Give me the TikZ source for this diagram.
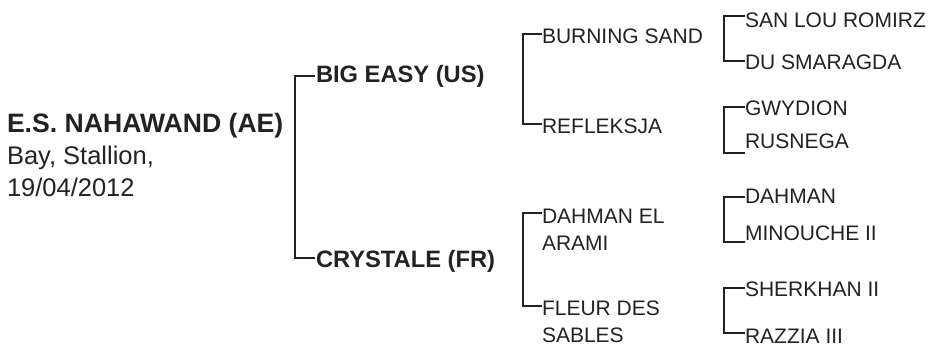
\documentclass[tikz,border=0pt]{standalone}
\usepackage{fontspec}
\setmainfont{Liberation Sans}
\definecolor{ink}{HTML}{222222}
\begin{document}
\begin{tikzpicture}[x=1pt,y=-1pt,
  lbl/.style={anchor=base west,inner sep=0pt,outer sep=0pt,text=ink,align=left},
  mainlbl/.style={lbl,font=\fontsize{25.5}{32}\selectfont},
  gone/.style={lbl,font=\fontsize{23.7}{28}\selectfont\bfseries},
  gtwo/.style={lbl,font=\fontsize{21}{27}\selectfont},
  br/.style={draw=ink,line width=2pt,line join=miter}]
\useasboundingbox (0,0) rectangle (940,343);
% subject (base anchor = last line)
\node[mainlbl] (m) at (7,196) {{\fontsize{26.6}{32}\selectfont\bfseries E.S. NAHAWAND (AE)}\\Bay, Stallion,\\19/04/2012};
% generation 1
\node[gone] (s) at (316,82.5) {BIG EASY (US)};
\node[gone] (d) at (316,267) {CRYSTALE (FR)};
\coordinate (st) at (315,76);
\coordinate (dt) at (315,258);
\draw[br] (st) -- ++(-20,0) |- (dt);
% generation 2
\node[gtwo] (ss) at (542,43) {BURNING SAND};
\node[gtwo] (sd) at (542,133) {REFLEKSJA};
\node[gtwo] (ds) at (542,250) {DAHMAN EL\\ARAMI};
\node[gtwo] (dd) at (542,342) {FLEUR DES\\SABLES};
\coordinate (sst) at (542,34);
\coordinate (sdt) at (542,124);
\coordinate (dst) at (542,213);
\coordinate (ddt) at (542,306);
\draw[br] (sst) -- ++(-19.5,0) |- (sdt);
\draw[br] (dst) -- ++(-19.5,0) |- (ddt);
% generation 3
\node[gtwo] (sss) at (745,27.5) {SAN LOU ROMIRZ};
\node[gtwo] (ssd) at (745,69.5) {DU SMARAGDA};
\node[gtwo] (sds) at (745,115) {GWYDION};
\node[gtwo] (sdd) at (745,148) {RUSNEGA};
\node[gtwo] (dss) at (745,203) {DAHMAN};
\node[gtwo] (dsd) at (745,240) {MINOUCHE II};
\node[gtwo] (dds) at (745,296) {SHERKHAN II};
\node[gtwo] (ddd) at (745,343) {RAZZIA III};
\coordinate (ssst) at (745,15.5);
\coordinate (ssdt) at (745,61);
\coordinate (sdst) at (745,107);
\coordinate (sddt) at (745,153);
\coordinate (dsst) at (745,197);
\coordinate (dsdt) at (745,242);
\coordinate (ddst) at (745,287.5);
\coordinate (dddt) at (745,333);
\draw[br] (ssst) -- ++(-21.5,0) |- (ssdt);
\draw[br] (sdst) -- ++(-21.5,0) |- (sddt);
\draw[br] (dsst) -- ++(-21.5,0) |- (dsdt);
\draw[br] (ddst) -- ++(-21.5,0) |- (dddt);
\end{tikzpicture}
\end{document}
